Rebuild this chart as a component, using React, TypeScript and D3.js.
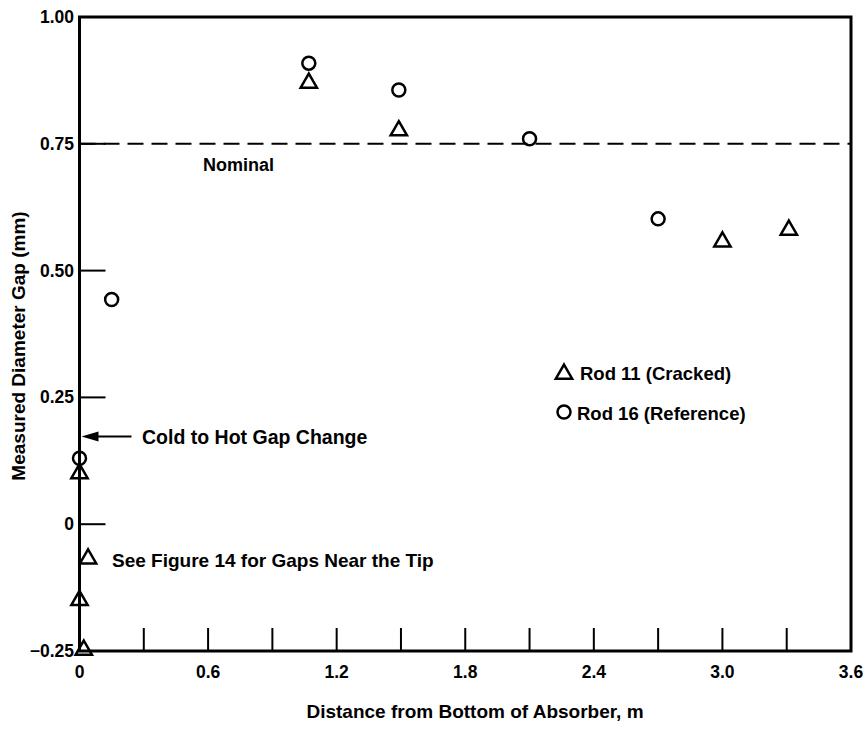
import React from "react";
import * as d3 from "d3";

const xTickValues = [0.3, 0.6, 0.9, 1.2, 1.5, 1.8, 2.1, 2.4, 2.7, 3.0, 3.3];
const xTickLabels = ["0", "0.6", "1.2", "1.8", "2.4", "3.0", "3.6"];
const xLabelValues = [0, 0.6, 1.2, 1.8, 2.4, 3.0, 3.6];
const yTickValues = [0, 0.25, 0.5, 0.75];
const yLabelValues = [-0.25, 0, 0.25, 0.5, 0.75, 1.0];
const yTickLabels = ["\u22120.25", "0", "0.25", "0.50", "0.75", "1.00"];

const rod11X = [0.0, 0.04, 0.0, 0.02, 1.07, 1.49, 3.0, 3.31];
const rod11Y = [0.1, -0.068, -0.15, -0.248, 0.87, 0.776, 0.557, 0.58];
const rod16X = [0.0, 0.15, 1.07, 1.49, 2.1, 2.7];
const rod16Y = [0.13, 0.443, 0.909, 0.856, 0.76, 0.602];

const nominal = 0.75;
const arrowY = 0.173;

const W = 868;
const H = 739;
const font = "'Liberation Sans', Arial, Helvetica, sans-serif";

export default function App() {
  const x = d3.scaleLinear().domain([0, 3.6]).range([79.5, 851]);
  const y = d3.scaleLinear().domain([-0.25, 1.0]).range([651, 17]);
  const triPath = d3.symbol().type(d3.symbolTriangle).size(115)() as string;
  const ax = x(0);
  const ay = y(arrowY);

  return (
    <svg width={W} height={H} style={{ position: "absolute", left: 0, top: 0, background: "#fff" }} fontFamily={font} fontWeight="bold">
      <rect x={x(0)} y={y(1)} width={x(3.6) - x(0)} height={y(-0.25) - y(1)} fill="none" stroke="#000" strokeWidth={3} />
      {xTickValues.map((v, i) => (
        <line key={"xt" + i} x1={x(v)} x2={x(v)} y1={y(-0.25)} y2={y(-0.25) - 23} stroke="#000" strokeWidth={2} />
      ))}
      {xLabelValues.map((v, i) => (
        <text key={"xl" + i} x={x(v)} y={678} textAnchor="middle" fontSize={17.5}>
          {xTickLabels[i]}
        </text>
      ))}
      {yTickValues.map((v, i) => (
        <line key={"yt" + i} x1={x(0)} x2={x(0) + 26} y1={y(v)} y2={y(v)} stroke="#000" strokeWidth={2} />
      ))}
      {yLabelValues.map((v, i) => (
        <text key={"yl" + i} x={74} y={y(v) + 6} textAnchor="end" fontSize={17.5}>
          {yTickLabels[i]}
        </text>
      ))}
      <line x1={x(0)} x2={x(3.6)} y1={y(nominal)} y2={y(nominal)} stroke="#000" strokeWidth={2} strokeDasharray="16,8" />
      <text x={203} y={171} fontSize={18}>Nominal</text>
      <line x1={ax + 52} x2={ax + 14} y1={ay} y2={ay} stroke="#000" strokeWidth={2} />
      <path d={`M${ax + 2},${ay} L${ax + 19},${ay - 5} L${ax + 19},${ay + 5} Z`} fill="#000" />
      <text x={142} y={444} fontSize={19.5}>Cold to Hot Gap Change</text>
      <text x={112} y={567} fontSize={19}>See Figure 14 for Gaps Near the Tip</text>
      {rod16X.map((v, i) => (
        <circle key={"c" + i} cx={x(v)} cy={y(rod16Y[i])} r={6.5} fill="none" stroke="#000" strokeWidth={2.5} />
      ))}
      {rod11X.map((v, i) => (
        <path key={"t" + i} d={triPath} transform={`translate(${x(v)},${y(rod11Y[i])})`} fill="none" stroke="#000" strokeWidth={2.5} strokeLinejoin="miter" />
      ))}
      <path d={triPath} transform={`translate(564,374)`} fill="none" stroke="#000" strokeWidth={2.5} />
      <text x={580} y={380} fontSize={18.5}>Rod 11 (Cracked)</text>
      <circle cx={564} cy={412} r={6.5} fill="none" stroke="#000" strokeWidth={2.5} />
      <text x={577} y={420} fontSize={18.5}>Rod 16 (Reference)</text>
      <text transform={`translate(25,346) rotate(-90)`} textAnchor="middle" fontSize={19}>
        Measured Diameter Gap (mm)
      </text>
      <text x={475} y={718} textAnchor="middle" fontSize={19}>
        Distance from Bottom of Absorber, m
      </text>
    </svg>
  );
}
